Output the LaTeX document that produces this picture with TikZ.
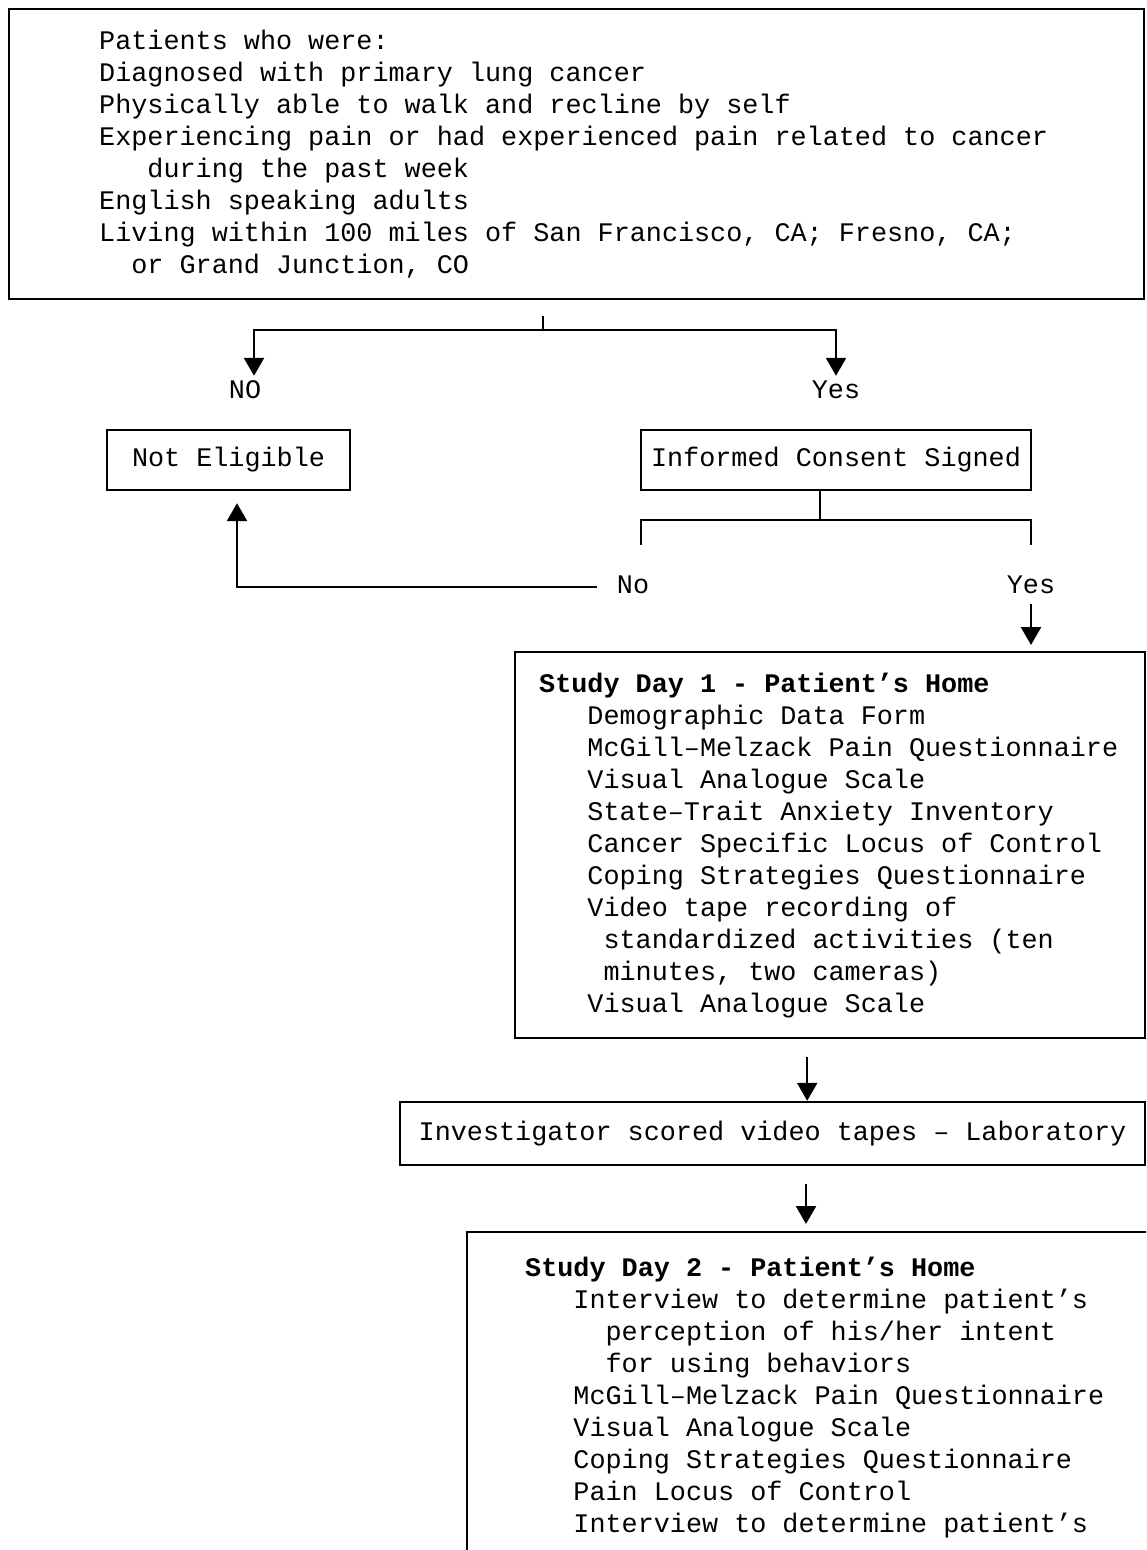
\documentclass[tikz,border=0pt]{standalone}
\usepackage{fontspec}
\setmainfont{Liberation Mono}
\usetikzlibrary{arrows.meta,positioning}

\tikzset{
  flowbox/.style={draw, rectangle, line width=1.2pt, inner sep=0pt, font=\fontsize{13.4}{16}\selectfont},
  answer/.style={inner sep=2pt, text height=9pt, text depth=3pt, font=\fontsize{13.4}{16}\selectfont},
  flow/.style={-{Triangle[length=9pt,width=10pt]}, line width=1.2pt},
}

\begin{document}
\begin{tikzpicture}[x=0.5pt, y=-0.5pt, line width=1.2pt]
    \useasboundingbox (0,0) rectangle (1146,1550);
    \clip (0,0) rectangle (1146,1550);

    % Boxes
    \node[flowbox, anchor=north west, text width=477.5pt, inner xsep=45pt, minimum height=145pt, align=flush left] (crit) at (8,8) {%
        Patients who were:\\
        Diagnosed with primary lung cancer\\
        Physically able to walk and recline by self\\
        Experiencing pain or had experienced pain related to cancer\\
        \hphantom{xxx}during the past week\\
        English speaking adults\\
        Living within 100 miles of San Francisco, CA; Fresno, CA;\\
        \hphantom{xx}or Grand Junction, CO};
    \node[flowbox, minimum width=121.5pt, minimum height=30pt] (notel) at (228.5,460) {Not Eligible};
    \node[flowbox, minimum width=195pt, minimum height=30pt] (consent) at (836,460) {Informed Consent Signed};
    \node[flowbox, anchor=north west, text width=291pt, inner xsep=12pt, minimum height=193pt, align=flush left] (day1) at (514,651) {%
        \textbf{Study Day 1 - Patient's Home}\\
        \hphantom{xxx}Demographic Data Form\\
        \hphantom{xxx}McGill--Melzack Pain Questionnaire\\
        \hphantom{xxx}Visual Analogue Scale\\
        \hphantom{xxx}State--Trait Anxiety Inventory\\
        \hphantom{xxx}Cancer Specific Locus of Control\\
        \hphantom{xxx}Coping Strategies Questionnaire\\
        \hphantom{xxx}Video tape recording of\\
        \hphantom{xxxx}standardized activities (ten\\
        \hphantom{xxxx}minutes, two cameras)\\
        \hphantom{xxx}Visual Analogue Scale};
    \node[flowbox, minimum width=372.5pt, minimum height=31.5pt] (lab) at (772.5,1133.5) {Investigator scored video tapes -- Laboratory};
    \node[flowbox, anchor=north west, text width=320pt, inner xsep=29pt, inner ysep=12.5pt, align=flush left] (day2) at (466,1231) {%
        \textbf{Study Day 2 - Patient's Home}\\
        \hphantom{xxx}Interview to determine patient's\\
        \hphantom{xxxxx}perception of his/her intent\\
        \hphantom{xxxxx}for using behaviors\\
        \hphantom{xxx}McGill--Melzack Pain Questionnaire\\
        \hphantom{xxx}Visual Analogue Scale\\
        \hphantom{xxx}Coping Strategies Questionnaire\\
        \hphantom{xxx}Pain Locus of Control\\
        \hphantom{xxx}Interview to determine patient's\rule[-40pt]{0pt}{0pt}};

    % Answers
    \node[answer] (no1) at (245,393) {NO};
    \node[answer] (yes1) at (836,393) {Yes};
    \node[answer] (no2) at (633,587) {No};
    \node[answer] (yes2) at (1031,587) {Yes};

    % Forks
    \coordinate (tick1) at (543,316);
    \coordinate (fork1) at (543,330);
    \coordinate (fork2) at (820,520);
    \coordinate (barL) at (641,545);
    \coordinate (barR) at (1031,545);

    % Connectors
    \draw (tick1) -- (fork1);
    \draw[flow] (fork1) -| ([xshift=4.5pt]no1.north);
    \draw[flow] (fork1) -| (yes1.north);
    \draw ([xshift=-8pt]consent.south) -- (fork2);
    \draw (barL) |- (fork2) -| (barR);
    \draw[flow, shorten <=7.5pt, shorten >=6pt] (no2.west) -| ([xshift=4.25pt]notel.south);
    \draw[flow, shorten >=3pt] (yes2.south) -- (yes2.south |- day1.north);
    \draw[flow, shorten <=9pt] ([xshift=-11.5pt]day1.south) -- ([xshift=-11.5pt]day1.south |- lab.north);
    \draw[flow, shorten <=9pt, shorten >=3.5pt] ([xshift=16.75pt]lab.south) -- ([xshift=16.75pt]lab.south |- day2.north);
\end{tikzpicture}
\end{document}
